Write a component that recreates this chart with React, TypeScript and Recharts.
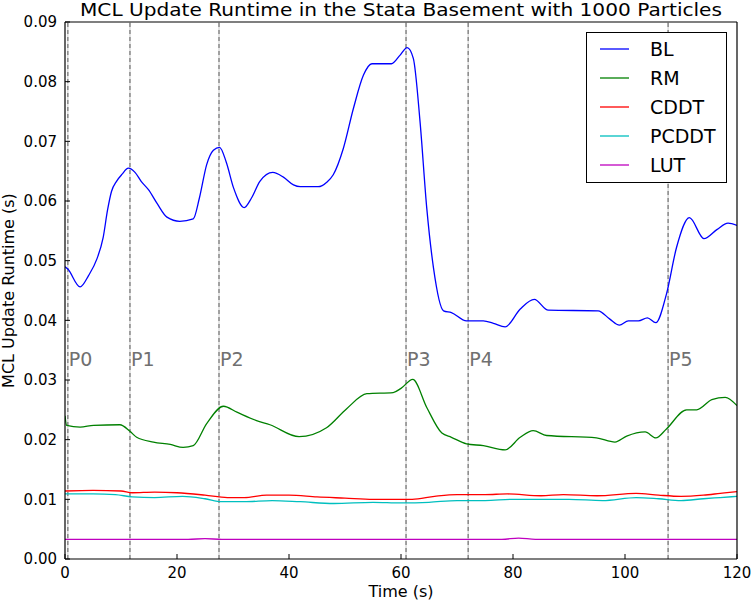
import { Line, LineChart, ReferenceLine, XAxis, YAxis } from "recharts";

type Pt = [number, number];

const timeTicks = [0, 20, 40, 60, 80, 100, 120];
const runtimeTicks = [0, 0.01, 0.02, 0.03, 0.04, 0.05, 0.06, 0.07, 0.08, 0.09];

const phaseTimes = [0.5, 11.6, 27.5, 60.9, 72, 107.7];
const phaseNames = ["P0", "P1", "P2", "P3", "P4", "P5"];

const blPoints: Pt[] = [
  [0, 0.049], [0.5, 0.0486], [2.7, 0.0456], [4.2, 0.0475], [5.7, 0.0503], [6.8, 0.0538],
  [7.6, 0.0585], [8.3, 0.0616], [9.2, 0.0633], [10.2, 0.0645], [11.3, 0.0655], [12.5, 0.0648],
  [13.6, 0.0633], [14.9, 0.0619], [16.5, 0.0595], [18.2, 0.0573], [20.5, 0.0566], [22.9, 0.057],
  [24.0, 0.0605], [25.3, 0.0661], [26.5, 0.0685], [27.6, 0.069], [28.8, 0.0665], [30.1, 0.0622],
  [32.0, 0.0589], [33.3, 0.0605], [34.8, 0.0633], [37.1, 0.0648], [39.0, 0.064], [40.8, 0.0627],
  [42.0, 0.0624], [45.2, 0.0624], [46.8, 0.0632], [47.9, 0.0644], [49.7, 0.0688], [51.5, 0.0755],
  [53.3, 0.0811], [54.8, 0.083], [58.3, 0.083], [59.8, 0.0844], [61.1, 0.0857], [62.2, 0.0839],
  [63.4, 0.0733], [64.6, 0.0588], [65.8, 0.0488], [67.6, 0.0416], [69.0, 0.0413], [71.7, 0.0399],
  [74.7, 0.0399], [76.5, 0.0395], [78.6, 0.0389], [81.3, 0.0419], [83.8, 0.0435], [86.3, 0.0417],
  [95.2, 0.0416], [97.3, 0.0402], [99.0, 0.0392], [100.6, 0.0399], [102.4, 0.0399], [104.0, 0.0404],
  [105.5, 0.0396], [107.4, 0.0444], [109.2, 0.0522], [111.5, 0.0572], [114.1, 0.0537], [116.4, 0.0552],
  [118.4, 0.0563], [120, 0.0559],
];

const rmPoints: Pt[] = [
  [0, 0.024], [0.3, 0.0224], [2.7, 0.0221], [5.1, 0.0224], [9.8, 0.0225], [11.6, 0.0214],
  [12.8, 0.0204], [15.8, 0.0196], [18.8, 0.0192], [21.1, 0.0187], [22.9, 0.019], [25.3, 0.0227],
  [28.3, 0.0256], [30.7, 0.0246], [34.2, 0.0232], [36.6, 0.0225], [41.8, 0.0205], [46.7, 0.022],
  [50.3, 0.0252], [53.9, 0.0277], [58.6, 0.0279], [60.0, 0.0286], [62.1, 0.0301], [64.6, 0.0254],
  [67.3, 0.0211], [69.0, 0.0204], [71.7, 0.0193], [74.7, 0.019], [78.6, 0.0183], [81.3, 0.0204],
  [83.6, 0.0215], [86.0, 0.0207], [94.9, 0.0203], [98.2, 0.0196], [100.3, 0.0206], [103.6, 0.0213],
  [105.5, 0.0203], [107.4, 0.0218], [111.0, 0.025], [112.8, 0.025], [115.5, 0.0267], [117.9, 0.0271],
  [120, 0.0257],
];

const cddtPoints: Pt[] = [
  [0, 0.0114], [5, 0.0115], [10, 0.0114], [12, 0.0111], [16, 0.0112], [20, 0.0111], [25, 0.0107],
  [29, 0.0103], [32, 0.0103], [36, 0.0107], [40, 0.0107], [45, 0.0104], [50, 0.0102], [55, 0.01],
  [60, 0.01], [62, 0.01], [66, 0.0105], [70, 0.0108], [75, 0.0108], [79, 0.0109], [85, 0.0106],
  [89, 0.0108], [95, 0.0106], [102, 0.011], [106, 0.0107], [110, 0.0105], [114, 0.0107], [117, 0.011],
  [120, 0.0113],
];

const pcddtPoints: Pt[] = [
  [0, 0.0109], [5, 0.0109], [9, 0.0108], [12, 0.0104], [16, 0.0103], [21, 0.0105], [25, 0.0101],
  [28, 0.0096], [32, 0.0096], [37, 0.0098], [42, 0.0096], [48, 0.0093], [55, 0.0095], [60, 0.0094],
  [65, 0.0095], [70, 0.0098], [75, 0.0098], [80, 0.01], [90, 0.01], [96, 0.0098], [102, 0.0103],
  [106, 0.0101], [110, 0.0098], [114, 0.0101], [117, 0.0103], [120, 0.0105],
];

const lutPoints: Pt[] = [
  [0, 0.0033], [10, 0.0033], [17, 0.0033], [22, 0.0033], [25, 0.0034], [28, 0.0033], [40, 0.0033],
  [60, 0.0033], [75, 0.0033], [78, 0.0033], [81, 0.0035], [84, 0.0033], [100, 0.0033], [120, 0.0033],
];

const series = [
  { name: "BL", color: "#0000ff", points: blPoints },
  { name: "RM", color: "#008000", points: rmPoints },
  { name: "CDDT", color: "#ff0000", points: cddtPoints },
  { name: "PCDDT", color: "#00bfbf", points: pcddtPoints },
  { name: "LUT", color: "#bf00bf", points: lutPoints },
];

const font = "'DejaVu Sans', sans-serif";
const tickStyle = { fill: "#000", fontSize: 15, fontFamily: font };

function PhaseTag({ viewBox, tag }: any) {
  if (!viewBox) return null;
  return (
    <text x={viewBox.x + 1} y={viewBox.y + 344} fill="#707070" fontSize={19} fontFamily={font}>
      {tag}
    </text>
  );
}

function YTitle({ viewBox }: any) {
  if (!viewBox) return null;
  const cy = viewBox.y + viewBox.height / 2;
  return (
    <text
      x={14}
      y={cy}
      transform={`rotate(-90 14 ${cy})`}
      textAnchor="middle"
      fontSize={16}
      fontFamily={font}
      fill="#000"
    >
      MCL Update Runtime (s)
    </text>
  );
}

function XTitle({ viewBox }: any) {
  if (!viewBox) return null;
  return (
    <text x={viewBox.x + viewBox.width / 2} y={597} textAnchor="middle" fontSize={16} fontFamily={font} fill="#000">
      Time (s)
    </text>
  );
}

export default function App() {
  return (
    <div style={{ position: "absolute", left: 0, top: 0, width: 752, height: 601, background: "#fff" }}>
      <LineChart width={752} height={601} margin={{ top: 21, right: 14, bottom: 0, left: 0 }}>
        <XAxis
          xAxisId="bottom"
          type="number"
          dataKey="t"
          domain={[0, 120]}
          ticks={timeTicks}
          allowDataOverflow
          height={42}
          tick={tickStyle}
          tickSize={-5}
          tickMargin={13}
          stroke="#000"
          tickLine={{ stroke: "#000" }}
          axisLine={{ stroke: "#000", strokeWidth: 1.2 }}
          label={<XTitle />}
        />
        <XAxis
          xAxisId="top"
          orientation="top"
          type="number"
          dataKey="t"
          domain={[0, 120]}
          ticks={timeTicks}
          height={1}
          tickFormatter={() => ""}
          tickSize={-5}
          tickLine={{ stroke: "#000" }}
          axisLine={{ stroke: "#000", strokeWidth: 1.2 }}
        />
        <YAxis
          yAxisId="left"
          type="number"
          domain={[0, 0.09]}
          ticks={runtimeTicks}
          allowDataOverflow
          width={65}
          tick={tickStyle}
          tickFormatter={(v: number) => v.toFixed(2)}
          tickSize={-5}
          tickMargin={13}
          tickLine={{ stroke: "#000" }}
          axisLine={{ stroke: "#000", strokeWidth: 1.2 }}
          label={<YTitle />}
        />
        <YAxis
          yAxisId="right"
          orientation="right"
          type="number"
          domain={[0, 0.09]}
          ticks={runtimeTicks}
          width={1}
          tickFormatter={() => ""}
          tickSize={-5}
          tickLine={{ stroke: "#000" }}
          axisLine={{ stroke: "#000", strokeWidth: 1.2 }}
        />
        {phaseTimes.map((t, i) => (
          <ReferenceLine
            key={`base-${phaseNames[i]}`}
            xAxisId="bottom"
            yAxisId="left"
            x={t}
            stroke="#dcdcdc"
            strokeWidth={1.5}
          />
        ))}
        {phaseTimes.map((t, i) => (
          <ReferenceLine
            key={`dash-${phaseNames[i]}`}
            xAxisId="bottom"
            yAxisId="left"
            x={t}
            stroke="#8a8a8a"
            strokeWidth={1.5}
            strokeDasharray="4 3"
            label={<PhaseTag tag={phaseNames[i]} />}
          />
        ))}
        {series.map((s) => (
          <Line
            key={s.name}
            xAxisId="bottom"
            yAxisId="left"
            data={s.points.map(([t, y]) => ({ t, y }))}
            dataKey="y"
            name={s.name}
            type="monotone"
            stroke={s.color}
            strokeWidth={1.3}
            dot={false}
            activeDot={false}
            isAnimationActive={false}
          />
        ))}
      </LineChart>
      <svg width={752} height={20} style={{ position: "absolute", left: 0, top: 0, zIndex: 2 }}>
        <text
          x={401}
          y={16}
          textAnchor="middle"
          fontSize={17}
          fontFamily={font}
          fill="#000"
          textLength={642}
          lengthAdjust="spacingAndGlyphs"
        >
          MCL Update Runtime in the Stata Basement with 1000 Particles
        </text>
      </svg>
      <svg
        width={141}
        height={151}
        style={{ position: "absolute", left: 586, top: 32, zIndex: 2 }}
      >
        <rect x={0.5} y={0.5} width={140} height={150} fill="#fff" stroke="#000" strokeWidth={1} />
        {series.map((s, i) => (
          <g key={s.name}>
            <line x1={14} x2={43} y1={17 + 29 * i} y2={17 + 29 * i} stroke={s.color} strokeWidth={1.3} />
            <text
              x={64}
              y={17 + 29 * i}
              dominantBaseline="central"
              fontSize={19}
              fontFamily={font}
              fill="#000"
            >
              {s.name}
            </text>
          </g>
        ))}
      </svg>
    </div>
  );
}
